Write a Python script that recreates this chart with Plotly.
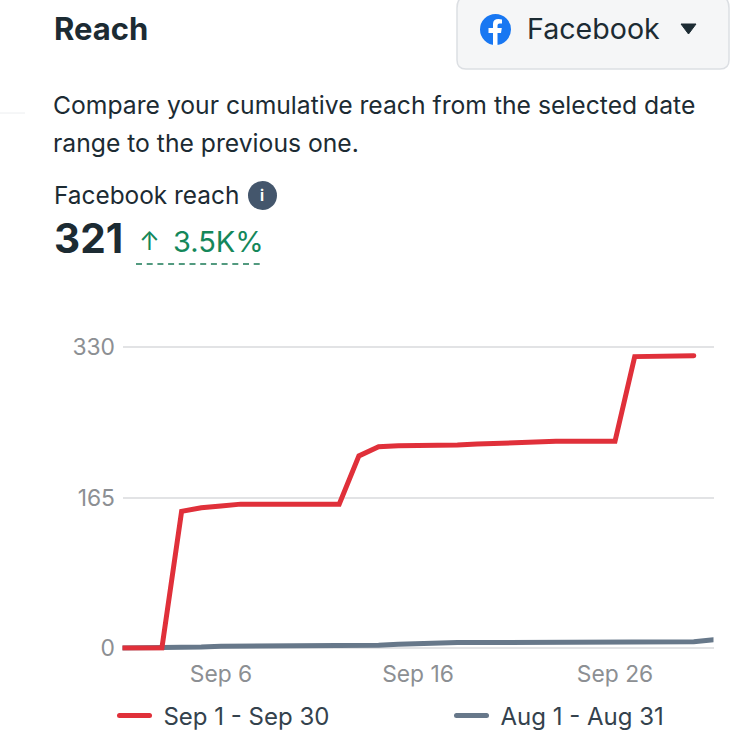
import plotly.graph_objects as go

days = [f"2024-09-{d:02d}" for d in range(1, 31)] + ["2024-10-01"]
sep_values = [0, 0, 0, 150, 154, 156, 158, 158, 158, 158, 158, 158, 211, 221, 222, 222, 223, 223, 224, 225,
              226, 227, 227, 227, 227, 227, 320, 320, 320, 321]
aug_values = [0, 0, 0, 1, 1, 2, 2, 2, 2, 2, 2, 2, 2, 3, 4, 5, 6, 6, 6, 6,
              6, 7, 7, 7, 7, 7, 7, 7, 7, 7, 9]
y_ticks = [0, 165, 330]
y_pad = 3
x_ticks = ["2024-09-06", "2024-09-16", "2024-09-26"]
x_labels = ["Sep 6", "Sep 16", "Sep 26"]
sep_name = "\u00a0\u200aSep 1 - Sep 30"
aug_name = "\u00a0\u200aAug 1 - Aug 31"

W, H = 730, 731
FONT = "Inter"
DARK = "#1c2b33"
GREEN = "#14875a"
RED = "#e0303a"
SLATE = "#67788a"
MUTED = "#8c8f93"


def X(p):
    return p / W


def Y(p):
    return 1 - p / H


fig = go.Figure()
fig.add_trace(go.Scatter(x=days, y=aug_values, mode="lines", name=aug_name, cliponaxis=False,
                         legend="legend2", line=dict(color=SLATE, width=5)))
fig.add_trace(go.Scatter(x=days[:30], y=sep_values, mode="lines", name=sep_name, cliponaxis=False,
                         legend="legend", line=dict(color=RED, width=5)))


def note(px, py, text, size, color=DARK, anchor="left", family=FONT):
    fig.add_annotation(xref="paper", yref="paper", x=X(px), y=Y(py), text=text, showarrow=False,
                       xanchor=anchor, yanchor="middle", borderpad=0,
                       font=dict(size=size, color=color, family=family))


note(53, 29, "<b>Reach</b>", 31)
note(526, 29, "Facebook", 28.6)
note(52, 105, "Compare your cumulative reach from the selected date", 24.7)
note(52, 143, "range to the previous one.", 24.7)
note(53, 195, "Facebook reach", 24.4)
note(53, 239, "<b>321</b>", 40.5)
note(138, 241, "↑", 25, GREEN)
note(172, 241, "3.5K%", 29, GREEN)
note(262, 195, "<b>i</b>", 15, "#ffffff", "center")

shapes = [
    dict(type="path", xref="paper", yref="paper",
         path=(f"M {X(470)},{Y(-5)} L {X(716)},{Y(-5)} Q {X(729)},{Y(-5)} {X(729)},{Y(8)} "
               f"L {X(729)},{Y(60)} Q {X(729)},{Y(69)} {X(720)},{Y(69)} L {X(466)},{Y(69)} "
               f"Q {X(457)},{Y(69)} {X(457)},{Y(60)} L {X(457)},{Y(8)} Q {X(457)},{Y(-5)} {X(470)},{Y(-5)} Z"),
         fillcolor="#f5f6f7", line=dict(color="#dcdfe3", width=1.5), layer="below"),
    dict(type="circle", xref="paper", yref="paper", x0=X(480), x1=X(511), y0=Y(14), y1=Y(45),
         fillcolor="#1877f2", line=dict(width=0)),
    dict(type="path", xref="paper", yref="paper",
         path=(f"M {X(493)},{Y(45)} L {X(493)},{Y(33)} L {X(488.5)},{Y(33)} L {X(488.5)},{Y(28)} "
               f"L {X(493)},{Y(28)} L {X(493)},{Y(24)} Q {X(493)},{Y(19)} {X(498.5)},{Y(19)} "
               f"L {X(502)},{Y(19.5)} L {X(502)},{Y(23.5)} L {X(499.5)},{Y(23.5)} Q {X(497.5)},{Y(23.5)} "
               f"{X(497.5)},{Y(25.5)} L {X(497.5)},{Y(28)} L {X(501.8)},{Y(28)} L {X(501)},{Y(33)} "
               f"L {X(497.5)},{Y(33)} L {X(497.5)},{Y(45)} Z"),
         fillcolor="#ffffff", line=dict(width=0)),
    dict(type="path", xref="paper", yref="paper",
         path=f"M {X(681)},{Y(24)} L {X(696)},{Y(24)} L {X(688.5)},{Y(34)} Z",
         fillcolor="#1c2b33", line=dict(color="#1c2b33", width=1)),
    dict(type="circle", xref="paper", yref="paper", x0=X(248), x1=X(277), y0=Y(181), y1=Y(210),
         fillcolor="#44566c", line=dict(width=0)),
    dict(type="line", xref="paper", yref="paper", x0=X(136), x1=X(264), y0=Y(264), y1=Y(264),
         line=dict(color="#1a7a55", width=1.5, dash="6px,4.7px")),
    dict(type="line", xref="paper", yref="paper", x0=X(0), x1=X(25), y0=Y(113), y1=Y(113),
         line=dict(color="#eceef0", width=1)),
]

legend_font = dict(size=24, color="#34424d", family=FONT)
# Plotly drops gridlines within 1 px of the axis ends, so the range is padded
# and the domain grown by the same amount to keep 0 and 330 on their pixel rows.
px_per_unit = 300.5 / 330
fig.update_layout(
    width=W, height=H, autosize=False,
    margin=dict(l=0, r=0, t=0, b=0, autoexpand=False),
    paper_bgcolor="#ffffff", plot_bgcolor="#ffffff",
    font=dict(family=FONT, color=MUTED),
    shapes=shapes,
    showlegend=True,
    legend=dict(x=X(114.5), y=Y(716), xanchor="left", yanchor="middle", itemwidth=30,
                font=legend_font, bgcolor="rgba(0,0,0,0)"),
    legend2=dict(x=X(451.5), y=Y(716), xanchor="left", yanchor="middle", itemwidth=30,
                 font=legend_font, bgcolor="rgba(0,0,0,0)"),
    xaxis=dict(domain=[X(122.5), X(713.5)], type="date", range=["2024-09-01", "2024-10-01"],
               tickmode="array", tickvals=x_ticks, ticktext=x_labels, showgrid=False, zeroline=False,
               showline=False, ticks="outside", ticklen=y_pad * px_per_unit, tickcolor="rgba(0,0,0,0)",
               tickfont=dict(size=22.8, color=MUTED, family=FONT)),
    yaxis=dict(domain=[Y(648 + y_pad * px_per_unit), Y(347.5 - y_pad * px_per_unit)],
               range=[-y_pad, 330 + y_pad], tickmode="array",
               tickvals=y_ticks, ticktext=[str(v) for v in y_ticks], showgrid=True, gridcolor="#e2e3e5",
               gridwidth=1.5, zeroline=False, showline=False, ticks="outside", ticklen=2,
               tickcolor="rgba(0,0,0,0)", tickfont=dict(size=22.8, color=MUTED, family=FONT)),
)

fig.write_html(
    "out.html",
    config={"displayModeBar": False},
    post_script=("document.body.style.margin='0';"
                 "var s=document.createElement('style');"
                 "s.textContent='.js-line,.legendlines path{stroke-linecap:round !important}';"
                 "document.head.appendChild(s);"),
)
